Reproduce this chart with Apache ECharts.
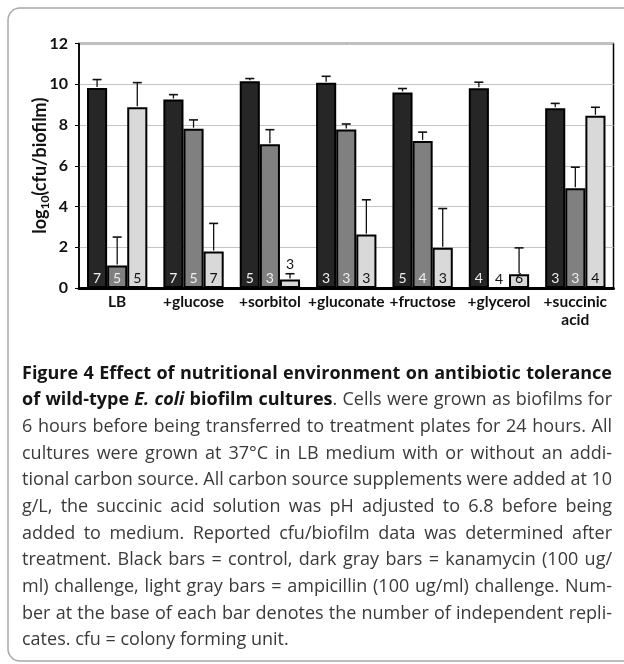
<!DOCTYPE html>
<html><head><meta charset="utf-8">
<script src="https://cdn.jsdelivr.net/npm/echarts@6/dist/echarts.min.js"></script>
<style>html,body{margin:0;padding:0;background:#fff}#c{width:624px;height:664px}</style>
</head><body><div id="c"></div>
<script>
// ---- data ----
const categories = ['LB', '+glucose', '+sorbitol', '+gluconate', '+fructose', '+glycerol', '+succinic\nacid'];
const controlValues    = [9.82, 9.25, 10.15, 10.07, 9.60, 9.80, 8.82];
const controlErrors    = [0.41, 0.24, 0.13, 0.32, 0.19, 0.30, 0.24];
const kanamycinValues  = [1.10, 7.82, 7.05, 7.78, 7.22, 0, 4.90];
const kanamycinErrors  = [1.40, 0.43, 0.72, 0.27, 0.43, 0, 1.03];
const ampicillinValues = [8.87, 1.79, 0.42, 2.62, 1.97, 0.68, 8.45];
const ampicillinErrors = [1.21, 1.38, 0.28, 1.71, 1.93, 1.29, 0.42];
const controlReplicates    = [7, 7, 5, 3, 5, 4, 3];
const kanamycinReplicates  = [5, 5, 3, 3, 4, 4, 3];
const ampicillinReplicates = [5, 7, 3, 3, 3, 6, 4];
const yTickValues = [0, 2, 4, 6, 8, 10, 12];
const seriesNames = ['control', 'kanamycin', 'ampicillin'];
const captionLines = [
  [['b', 'Figure 4 Effect of nutritional environment on antibiotic tolerance']],
  [['b', 'of wild-type '], ['bi', 'E. coli'], ['b', ' biofilm cultures'], ['r', '. Cells were grown as biofilms for']],
  [['r', '6 hours before being transferred to treatment plates for 24 hours. All']],
  [['r', 'cultures were grown at 37°C in LB medium with or without an addi-']],
  [['r', 'tional carbon source. All carbon source supplements were added at 10']],
  [['r', 'g/L, the succinic acid solution was pH adjusted to 6.8 before being']],
  [['r', 'added to medium. Reported cfu/biofilm data was determined after']],
  [['r', 'treatment. Black bars = control, dark gray bars = kanamycin (100 ug/']],
  [['r', 'ml) challenge, light gray bars = ampicillin (100 ug/ml) challenge. Num-']],
  [['r', 'ber at the base of each bar denotes the number of independent repli-']],
  [['r', 'cates. cfu = colony forming unit.']]
];

// ---- styles ----
const FONT = 'Lato';
const CAP_FONT = 'Open Sans';
const fills = ['#262626', '#808080', '#d9d9d9'];
const labelColors = ['#eeeeee', '#eeeeee', '#111111'];
const CAT_GAP = 0.21;

const valueSets = [controlValues, kanamycinValues, ampicillinValues];
const errorSets = [controlErrors, kanamycinErrors, ampicillinErrors];
const repSets = [controlReplicates, kanamycinReplicates, ampicillinReplicates];

const barSeries = valueSets.map((vals, si) => ({
  name: seriesNames[si],
  type: 'bar',
  barGap: '0%',
  barCategoryGap: (CAT_GAP * 100) + '%',
  itemStyle: { color: fills[si], borderColor: '#000', borderWidth: 2 },
  z: 2,
  data: vals.map((v, ci) => {
    const small = v > 0 && v < 0.5;
    return {
      value: v,
      label: {
        show: true,
        position: small ? 'top' : 'insideBottom',
        distance: small ? 8 : 3,
        formatter: String(repSets[si][ci]),
        color: (v === 0 || small) ? '#111' : labelColors[si],
        fontFamily: FONT, fontSize: 14
      }
    };
  })
}));

const errData = [];
valueSets.forEach((vals, si) => vals.forEach((v, ci) => {
  if (errorSets[si][ci] > 0) errData.push([ci, v + errorSets[si][ci], v, si]);
}));

const errSeries = {
  type: 'custom',
  z: 5,
  silent: true,
  encode: { x: 0, y: 1 },
  data: errData,
  renderItem: function (params, api) {
    const ci = api.value(0), top = api.value(1), base = api.value(2), si = api.value(3);
    const p0 = api.coord([ci, base]);
    const p1 = api.coord([ci, top]);
    const bw = api.size([1, 0])[0] * (1 - CAT_GAP) / 3;
    const x = p0[0] + (si - 1) * bw;
    return { type: 'group', children: [
      { type: 'line', shape: { x1: x, y1: p0[1] - 1, x2: x, y2: p1[1] }, style: { stroke: '#111', lineWidth: 1.3 } },
      { type: 'line', shape: { x1: x - 4.5, y1: p1[1], x2: x + 4.5, y2: p1[1] }, style: { stroke: '#111', lineWidth: 1.6 } }
    ]};
  }
};

// ---- caption (justified words) ----
const capStyles = {
  b: { fontWeight: 'bold', fontStyle: 'normal', fill: '#151515' },
  bi: { fontWeight: 'bold', fontStyle: 'italic', fill: '#151515' },
  r: { fontWeight: 'normal', fontStyle: 'normal', fill: '#3a3a3a' }
};
const mctx = document.createElement('canvas').getContext('2d');
function measure(t, k, size) {
  const s = capStyles[k];
  mctx.font = s.fontStyle + ' ' + s.fontWeight + ' ' + size + 'px "' + CAP_FONT + '"';
  return mctx.measureText(t).width;
}
const CAP_LEFT = 22, CAP_RIGHT = 612, CAP_TOP = 373.5, CAP_LH = 26.67;
const CAP_W = CAP_RIGHT - CAP_LEFT;
const refLine = captionLines[2][0][1];
const CAP_SIZE = Math.max(14, Math.min(18, 16 * CAP_W / measure(refLine, 'r', 16)));

const graphics = [{
  type: 'rect', shape: { x: 8, y: 8, width: 660, height: 653, r: 12 },
  style: { fill: 'none', stroke: '#a8a8a8', lineWidth: 1.5 }, z: 0
}];
captionLines.forEach((line, li) => {
  const words = []; let cur = [];
  line.forEach(([k, txt]) => {
    txt.split(' ').forEach((p, i) => {
      if (i > 0) { if (cur.length) words.push(cur); cur = []; }
      if (p) cur.push({ k, t: p });
    });
  });
  if (cur.length) words.push(cur);
  let size = CAP_SIZE;
  const wsum = sz => words.reduce((a, w) => a + w.reduce((b, pc) => b + measure(pc.t, pc.k, sz), 0), 0);
  const minGap = 0.18 * size;
  while (wsum(size) + minGap * (words.length - 1) > CAP_W && size > 12) size -= 0.1;
  const widths = words.map(w => w.reduce((a, pc) => a + measure(pc.t, pc.k, size), 0));
  const total = widths.reduce((a, b) => a + b, 0);
  const last = li === captionLines.length - 1;
  const gap = last ? measure(' ', 'r', size) : (CAP_W - total) / (words.length - 1);
  let x = CAP_LEFT;
  const y = CAP_TOP + li * CAP_LH;
  words.forEach((w, wi) => {
    let px = x;
    w.forEach(pc => {
      const s = capStyles[pc.k];
      graphics.push({ type: 'text', style: {
        text: pc.t, x: px, y: y, fill: s.fill, fontFamily: CAP_FONT, fontSize: size,
        fontWeight: s.fontWeight, fontStyle: s.fontStyle, verticalAlign: 'middle', align: 'left'
      }});
      px += measure(pc.t, pc.k, size);
    });
    x += widths[wi] + gap;
  });
});

const chart = echarts.init(document.getElementById('c'), null, { renderer: 'canvas' });
chart.setOption({
  animation: false,
  backgroundColor: '#fff',
  grid: { left: 79, right: 10.5, top: 43.5, bottom: 376, show: true, borderColor: '#000', borderWidth: 1.5, backgroundColor: 'transparent' },
  xAxis: {
    type: 'category', data: categories,
    axisLine: { lineStyle: { color: '#000', width: 3 } },
    axisTick: { show: false },
    axisLabel: { interval: 0, color: '#111', fontFamily: FONT, fontWeight: 'bold', fontSize: 15.5, lineHeight: 18, margin: 5 },
    z: 10
  },
  yAxis: {
    type: 'value', min: yTickValues[0], max: yTickValues[yTickValues.length - 1], interval: 2,
    name: '{a|log}{s|10}{a|(cfu/biofilm)}',
    nameLocation: 'middle', nameGap: 28, nameRotate: 90, nameMoveOverlap: false,
    nameTextStyle: {
      rich: {
        a: { fontFamily: FONT, fontWeight: 'bold', fontSize: 18, color: '#111', lineHeight: 22 },
        s: { fontFamily: FONT, fontWeight: 'bold', fontSize: 12, color: '#111', lineHeight: 12, verticalAlign: 'bottom' }
      }
    },
    axisLine: { show: true, lineStyle: { color: '#000', width: 1.5 } },
    axisTick: { show: true, length: 4, lineStyle: { color: '#000', width: 1 } },
    axisLabel: { color: '#111', fontFamily: FONT, fontWeight: 'bold', fontSize: 16, margin: 11 },
    splitLine: { lineStyle: { color: '#c4c4c4', width: 1 } }
  },
  series: [...barSeries, errSeries],
  graphic: graphics
});
</script></body></html>
